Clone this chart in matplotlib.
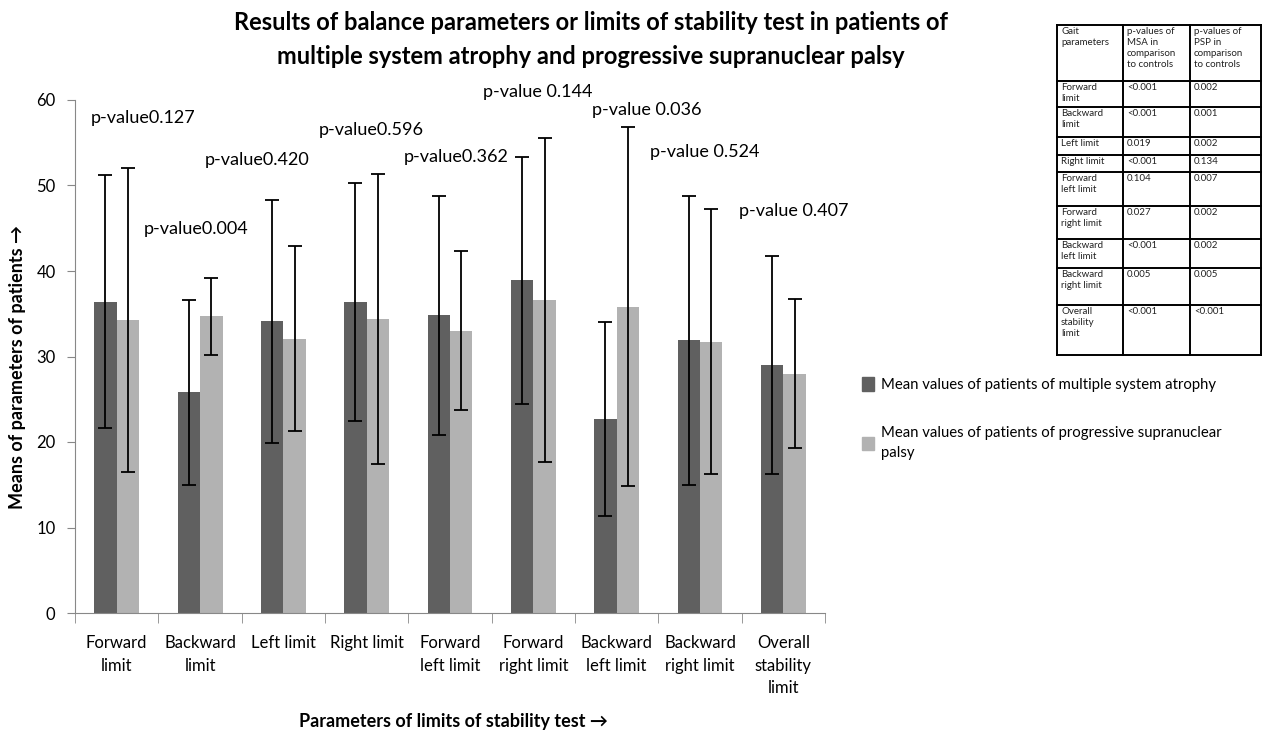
import numpy as np
import matplotlib.pyplot as plt
from matplotlib.patches import Patch

plt.rcParams['font.family'] = ['Lato', 'DejaVu Sans']

categories = ['Forward\nlimit', 'Backward\nlimit', 'Left limit', 'Right limit',
              'Forward\nleft limit', 'Forward\nright limit', 'Backward\nleft limit',
              'Backward\nright limit', 'Overall\nstability\nlimit']
msa_mean = [36.4, 25.8, 34.1, 36.4, 34.8, 38.9, 22.7, 31.9, 29.0]
msa_sd = [14.8, 10.8, 14.2, 13.9, 14.0, 14.4, 11.3, 16.9, 12.7]
psp_mean = [34.3, 34.7, 32.1, 34.4, 33.0, 36.6, 35.8, 31.7, 28.0]
psp_sd = [17.8, 4.5, 10.8, 17.0, 9.3, 18.9, 21.0, 15.5, 8.7]

pvals = ['p-value0.127', 'p-value0.004', 'p-value0.420', 'p-value0.596', 'p-value0.362',
         'p-value 0.144', 'p-value 0.036', 'p-value 0.524', 'p-value 0.407']
# label positions (category units, y units)
pval_x = [0.32, 0.95, 1.69, 3.06, 4.07, 5.05, 6.36, 7.06, 8.12]
pval_y = [57.9, 44.9, 53.0, 56.5, 53.3, 60.9, 58.8, 53.9, 47.0]

table_head = ['Gait\nparameters', 'p-values of\nMSA in\ncomparison\nto controls',
              'p-values of\nPSP in\ncomparison\nto controls']
table_rows = ['Forward\nlimit', 'Backward\nlimit', 'Left limit', 'Right limit',
              'Forward\nleft limit', 'Forward\nright limit', 'Backward\nleft limit',
              'Backward\nright limit', 'Overall\nstability\nlimit']
table_msa = ['<0.001', '<0.001', '0.019', '<0.001', '0.104', '0.027', '<0.001', '0.005', '<0.001']
table_psp = ['0.002', '0.001', '0.002', '0.134', '0.007', '0.002', '0.002', '0.005', '<0.001']

dark = '#606060'
light = '#b2b2b2'

fig = plt.figure(figsize=(12.71, 7.33), dpi=100)
ax = fig.add_axes([75 / 1271, 1 - 613 / 733, 750 / 1271, 513 / 733])

x = np.arange(len(categories))
w = 0.27
ax.bar(x - w / 2, msa_mean, w, color=dark)
ax.bar(x + w / 2, psp_mean, w, color=light)
ax.errorbar(x - w / 2, msa_mean, yerr=msa_sd, fmt='none', ecolor='black', elinewidth=1.3,
            capsize=5, capthick=1.3)
ax.errorbar(x + w / 2, psp_mean, yerr=psp_sd, fmt='none', ecolor='black', elinewidth=1.3,
            capsize=5, capthick=1.3)

for t, px, py in zip(pvals, pval_x, pval_y):
    ax.text(px, py, t, ha='center', va='center', fontsize=13, clip_on=False)

ax.set_xlim(-0.5, len(categories) - 0.5)
ax.set_ylim(0, 60)
ax.set_yticks(range(0, 61, 10))
ax.tick_params(axis='y', labelsize=12, length=6, color='#888888', pad=8)
ax.set_xticks(x)
ax.set_xticklabels(categories, fontsize=12, linespacing=1.5)
ax.tick_params(axis='x', length=0, pad=16)
ax.set_xticks(np.arange(-0.5, len(categories)), minor=True)
ax.tick_params(axis='x', which='minor', length=7, color='#888888')
for s in ['top', 'right']:
    ax.spines[s].set_visible(False)
ax.spines['left'].set_color('#888888')
ax.spines['bottom'].set_color('#888888')

fig.text(18 / 1271, 1 - 367 / 733, 'Means of parameters of patients →', fontsize=13,
         fontweight='bold', rotation=90, ha='center', va='center')
fig.text(453 / 1271, 1 - 721 / 733, 'Parameters of limits of stability test →', fontsize=13,
         fontweight='bold', ha='center', va='center')
fig.text(591 / 1271, 1 - 11 / 733,
         'Results of balance parameters or limits of stability test in patients of\n'
         'multiple system atrophy and progressive supranuclear palsy',
         fontsize=17, fontweight='bold', ha='center', va='top', linespacing=1.6)

handles = [Patch(color=dark), Patch(color=light)]
labels = ['Mean values of patients of multiple system atrophy',
          'Mean values of patients of progressive supranuclear\npalsy']
leg = fig.legend(handles, labels, loc='upper left', bbox_to_anchor=(849 / 1271, 1 - 364 / 733),
                 frameon=False, fontsize=10.7, handlelength=0.8, handleheight=1.0,
                 handletextpad=0.45, labelspacing=2.3)
for t in leg.get_texts():
    t.set_linespacing(1.55)

# small p-value table in the top right corner
tax = fig.add_axes([1057 / 1271, 1 - 355 / 733, 204 / 1271, 330 / 733])
tax.set_xlim(0, 204)
tax.set_ylim(330, 0)
tax.axis('off')
col_w = [66, 67, 71]
row_h = [56, 26, 30, 18, 17, 34, 33, 29, 37, 50]
col_x = np.concatenate([[0], np.cumsum(col_w)])
row_y = np.concatenate([[0], np.cumsum(row_h)])
for yy in row_y:
    tax.plot([0, 204], [yy, yy], color='black', lw=1.4, clip_on=False)
for xx in col_x:
    tax.plot([xx, xx], [0, row_y[-1]], color='black', lw=1.4, clip_on=False)
cells = [table_head] + [[r, m, p] for r, m, p in zip(table_rows, table_msa, table_psp)]
for i, row in enumerate(cells):
    for j, txt in enumerate(row):
        tax.text(col_x[j] + 4, row_y[i] + 2, txt, fontsize=7, ha='left', va='top',
                 linespacing=1.3, color='#222222')

fig.savefig('out.png', dpi=100)
